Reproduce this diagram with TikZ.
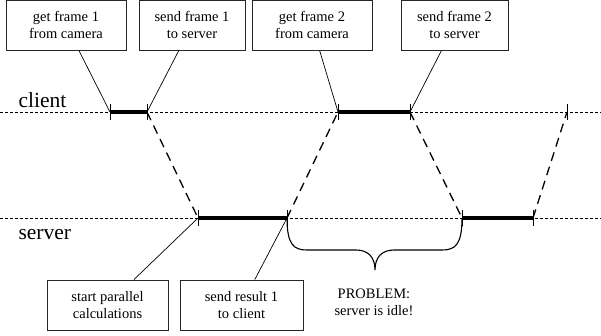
\documentclass[tikz,border=0pt]{standalone}
\usepackage{fontspec}
\setmainfont{Liberation Serif}
\usetikzlibrary{positioning, calc}

\begin{document}
\begin{tikzpicture}[x=1pt, y=-1pt,
  box/.style={draw=black!85, line width=0.9pt, minimum width=#1, minimum height=50pt,
    inner sep=0pt, align=center, font=\fontsize{14.5}{16.5}\selectfont},
  lane/.style={font=\fontsize{21.5}{24}\selectfont, anchor=base west},
  timeline/.style={line width=1pt, dash pattern=on 3pt off 2pt},
  busy/.style={line width=4pt},
  tick/.style={line width=1pt},
  msg/.style={line width=1.3pt, dash pattern=on 9pt off 6pt},
  lead/.style={line width=0.7pt}
]
\useasboundingbox (0,0) rectangle (601,335);

% Time lines
\coordinate (cw) at (0,112);   \coordinate (ce) at (601,112);
\coordinate (sw) at (0,218);   \coordinate (se) at (601,218);
\draw[timeline] (cw) -- (ce);
\draw[timeline] (sw) -- (se);
\node[lane] (client) at (15,107) {client};
\node[lane] (server) at (15,239) {server};

% Events on the time lines
\coordinate (c1) at (110,112); \coordinate (c2) at (147,112);
\coordinate (c3) at (338,112); \coordinate (c4) at (410,112);
\coordinate (c5) at (567,112);
\coordinate (s1) at (198,218); \coordinate (s2) at (287,218);
\coordinate (s3) at (462,218); \coordinate (s4) at (533,218);

\draw[busy] (c1) -- (c2);
\draw[busy] (c3) -- (c4);
\draw[busy] (s1) -- (s2);
\draw[busy] (s3) -- (s4);
\foreach \p in {c1,c2,c3,c4,c5,s1,s2,s3,s4}
  \draw[tick] (\p) ++(0,-8) -- ++(0,16);

% Messages between client and server
\draw[msg] (c2) -- (s1);
\draw[msg] (s2) -- (c3);
\draw[msg] (c4) -- (s3);
\draw[msg] (s4) -- (c5);

% Notes
\node[box=120pt] (get1) at (66,25) {get frame 1\\from camera};
\node[box=106pt] (send1) at (192,25) {send frame 1\\to server};
\node[box=120pt] (get2) at (312,25) {get frame 2\\from camera};
\node[box=107pt] (send2) at (454.5,25) {send frame 2\\to server};
\node[box=121pt] (calc) at (107.5,305) {start parallel\\calculations};
\node[box=123pt] (res1) at (241.5,305) {send result 1\\to client};

\draw[lead] (get1) -- (c1);
\draw[lead] (send1) -- (c2);
\draw[lead] (get2) -- (c3);
\draw[lead] (send2) -- (c4);
\draw[lead] (calc) -- (s1);
\draw[lead] (res1) -- (s2);

% Idle gap
\draw[line width=1.1pt] (s2) .. controls (287,245) and (294,250) .. (307,250) -- (356,250)
  .. controls (368,250) and (375,257) .. (375,270)
  .. controls (375,257) and (382,250) .. (394,250) -- (442,250)
  .. controls (455,250) and (462,245) .. (s3);
\node[font=\fontsize{14.5}{17}\selectfont, align=center] (idle) at (374,302) {PROBLEM:\\server is idle!};

\end{tikzpicture}
\end{document}
